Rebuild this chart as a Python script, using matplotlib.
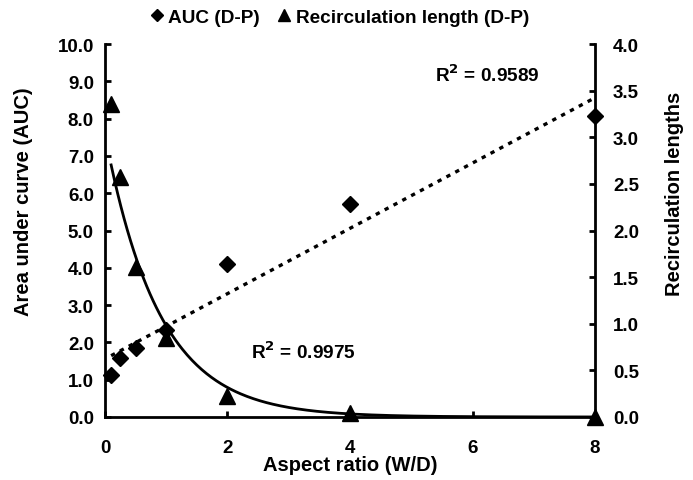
import matplotlib
matplotlib.use('Agg')
import matplotlib.pyplot as plt
import numpy as np
from matplotlib.lines import Line2D

plt.rcParams['font.family'] = ['Liberation Sans', 'DejaVu Sans']
plt.rcParams['font.weight'] = 'bold'

# data
aspect = [0.1, 0.25, 0.5, 1, 2, 4, 8]
auc = [1.13, 1.58, 1.85, 2.33, 4.10, 5.71, 8.07]
recirc = [3.36, 2.57, 1.61, 0.85, 0.23, 0.04, 0.0]

r2_auc = "0.9589"
r2_rec = "0.9975"

fig = plt.figure(figsize=(6.93, 4.81), dpi=100)
ax = fig.add_axes([0.1515, 0.131, 0.7071, 0.7754])
ax2 = ax.twinx()

# linear trend for AUC
x = np.array(aspect)
k, b = np.polyfit(x, auc, 1)
xl = np.linspace(min(aspect), max(aspect), 50)
ax.plot(xl, k * xl + b, color='black', lw=2.4, ls=(0, (1.3, 1.7)), zorder=2)
ax.plot(aspect, auc, 'D', color='black', ms=8, zorder=3, clip_on=False)

# exponential trend for recirculation (zero point left out of the log fit)
pos = [(xi, yi) for xi, yi in zip(aspect, recirc) if yi > 0]
px = np.array([p[0] for p in pos])
py = np.array([p[1] for p in pos])
bb, la = np.polyfit(px, np.log(py), 1)
xe = np.linspace(min(aspect), max(aspect), 300)
ax2.plot(xe, np.exp(la) * np.exp(bb * xe), color='black', lw=2, zorder=2)
ax2.plot(aspect, recirc, '^', color='black', ms=11, zorder=3, clip_on=False)

ax.set_xlim(0, 8)
ax.set_ylim(0, 10)
ax2.set_ylim(0, 4)
ax.set_xticks([0, 2, 4, 6, 8])
ax.set_yticks(np.arange(0, 10.1, 1))
ax.set_yticklabels(['%.1f' % v for v in np.arange(0, 10.1, 1)])
ax2.set_yticks(np.arange(0, 4.01, 0.5))
ax2.set_yticklabels(['%.1f' % v for v in np.arange(0, 4.01, 0.5)])

for a in (ax, ax2):
    a.spines['top'].set_visible(False)
    for s in ('left', 'right', 'bottom'):
        a.spines[s].set_linewidth(2)
    a.tick_params(direction='in', length=4, width=2, labelsize=13.5, pad=8)
ax.tick_params(axis='x', pad=16)
ax2.tick_params(axis='y', pad=13)
ax.spines['right'].set_visible(False)
ax2.spines['left'].set_visible(False)
ax2.spines['bottom'].set_visible(False)

ax.set_xlabel('Aspect ratio (W/D)', fontsize=14.5, fontweight='bold', va='center')
ax.set_ylabel('Area under curve (AUC)', fontsize=14.5, fontweight='bold', va='center')
ax2.set_ylabel('Recirculation lengths', fontsize=14.5, fontweight='bold', va='center')
ax.xaxis.set_label_coords(0.5, -0.127)
ax.yaxis.set_label_coords(-0.167, 0.58)
ax2.yaxis.set_label_coords(1.163, 0.60)

ax.text(5.38, 9.2, 'R$^2$ = ' + r2_auc, fontsize=13.7, fontweight='bold', va='center')
ax.text(2.38, 1.77, 'R$^2$ = ' + r2_rec, fontsize=13.7, fontweight='bold', va='center')

handles = [Line2D([], [], marker='D', color='black', ls='none', ms=6.5),
           Line2D([], [], marker='^', color='black', ls='none', ms=9)]
fig.legend(handles, ['AUC (D-P)', 'Recirculation length (D-P)'], loc='center',
           bbox_to_anchor=(0.488, 0.962), ncol=2, frameon=False, fontsize=13.7,
           handletextpad=0.1, columnspacing=0.8, handlelength=1)

fig.savefig('out.png', dpi=100)
